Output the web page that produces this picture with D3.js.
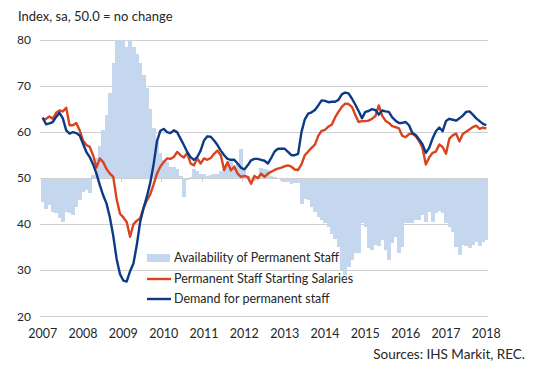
<!DOCTYPE html>
<html><head><meta charset="utf-8">
<script src="https://cdn.jsdelivr.net/npm/d3@7"></script>
<style>
html,body{margin:0;padding:0;background:#fff;}
svg text{font-family:Lato,"Open Sans",sans-serif;fill:#262626;}
</style></head>
<body><svg id="chart" width="542" height="369"></svg>
<script>
const years = ["2007","2008","2009","2010","2011","2012","2013","2014","2015","2016","2017","2018"];
const yTicks = [20,30,40,50,60,70,80];
const seriesNames = ["Availability of Permanent Staff","Permanent Staff Starting Salaries","Demand for permanent staff"];

// Monthly, Jan 2007 .. Jan 2018
const availability = [
44.9,43.3,44.1,42.7,42.5,41.3,40.5,42.7,42.4,42,43.8,45.2,
47,47.4,46.7,50.6,54.3,57,60.4,63.7,68.4,75,80,80,
80,78.5,80,78.5,77,75,72.5,69.5,65,61,58,55.5,
54,53.5,52.4,52.4,51.9,50.5,46,49.7,50.3,52,51.5,51,
51,50.5,50.8,51,51,51.5,52,53.2,54,52.8,53,56.3,
51.5,50.5,49.8,49.5,50.5,52.3,51.9,51.8,50.5,50.3,50,49.3,
49.2,49.2,48.8,49,49,44.5,45.6,45.2,43.8,42.7,41.6,40.9,
40.2,39.4,38,36.9,35.1,30,29,30.8,32.2,33.7,33.7,40.2,
39.4,34.8,34.4,35.5,35.3,36.5,34.4,32.2,35.9,37.3,33.7,35,
40.2,40.2,40.2,40.9,40.9,42,40.5,42.7,40.5,42.4,43,42.4,
40.2,39.4,38.4,35.1,33.3,35.5,35.3,34.8,35.5,36.2,35.3,36.2,
36.6];
const salaries = [
62.6,62.9,63.4,62.9,64.2,64.7,64.5,65.3,61.5,61.5,62,60.4,
58.2,57.2,56.8,55,52.3,54.3,53.5,52,51,50.3,45.5,42.3,
41.5,40.5,37.3,40,40.8,41.3,43.5,45.2,46.5,48.6,51,52.5,
53.5,54.3,54.2,54.6,55.7,55,54.5,55.5,53.2,52.8,54.3,53.2,
54.3,54,54.4,55.3,56,55,51.8,53.5,51.7,52.5,51,50.3,
50.5,50.3,48.8,50.5,50,51,50.3,51,51.4,51.8,52.1,52.3,
52.6,52.8,52.5,51.9,51.8,53,55,55.8,56.6,57.3,59.2,60.3,
60.5,61.2,61.6,63.2,64.4,65.5,66.2,66.1,65.5,63.8,62.2,62.4,
62.4,62.5,62.9,63.5,65.8,63.6,62.5,62,61.3,61.1,60.8,59.2,
58.9,59.6,59.7,59.1,58.1,56.6,53,54.5,55.5,55.8,57.3,56.8,
55.3,58.6,59.3,59.7,58,59.6,60.1,60.6,61.1,61.4,60.7,61,
60.8];
const demand = [
63.2,61.7,61.9,62.2,63.3,64.2,63,60.4,59.7,60,59.8,59.3,
57.5,55.7,54.6,53,51,48.5,46.3,44.5,41.5,37.5,32.5,29.2,
27.8,27.6,29.8,31.5,35.5,40.5,43.5,46,49,53,58,60.3,
60.7,60,59.8,60.4,60,58.6,57.2,55.7,54.6,54,54.6,56,
58.2,59.1,59,58.2,57.2,56,55,54.2,54,54,53.2,52.3,
51.9,52.8,53.9,54.2,54.2,54,53.8,53.2,54.4,55.8,56.4,56.4,
56.4,55.7,55,55,55.3,60,62.8,64,64.3,64.8,65.8,66.9,
66.8,66.5,66.6,66.6,67,68.2,68.6,68.4,67.3,66,64.6,63,
64.4,64.6,65,64.8,63.8,64.7,64.5,64.4,63.2,62.5,62,62,
62.2,61.5,59.8,59.4,58.4,57.4,55.5,56.6,58.6,60.2,61,60.2,
62.4,62.9,62.7,62.5,63,63.6,64.4,64.5,63.8,63,62.4,61.8,
61.5];

const barColor = "#c5d7ef", redColor = "#d9441f", blueColor = "#0c3a85", gridColor = "#cfcfcf";

const months = d3.range(availability.length);
const svg = d3.select("#chart");
const x = d3.scaleBand().domain(months).range([41, 488]).padding(0);
const y = d3.scaleLinear().domain([20, 80]).range([316.5, 40]);
const bw = x.bandwidth();
const cx = i => x(i) + bw / 2;

// title
svg.append("text").attr("x", 18).attr("y", 21).style("font-size", "13px").text("Index, sa, 50.0 = no change");

// gridlines
svg.append("g").selectAll("line").data(yTicks.filter(v => v !== 50)).join("line")
  .attr("x1", 40).attr("x2", 488).attr("y1", d => y(d)).attr("y2", d => y(d))
  .attr("stroke", gridColor).attr("stroke-width", 1).attr("shape-rendering", "crispEdges");

// y labels
svg.append("g").selectAll("text").data(yTicks).join("text")
  .attr("x", 31).attr("y", d => y(d) + 4).attr("text-anchor", "end")
  .style("font-size", "12px").text(d => d);

// bars relative to 50
svg.append("g").selectAll("rect").data(availability).join("rect")
  .attr("x", (d, i) => x(i)).attr("width", bw + 0.4)
  .attr("y", d => y(Math.max(d, 50))).attr("height", d => Math.abs(y(d) - y(50)))
  .attr("fill", barColor).attr("shape-rendering", "crispEdges");

// axis line at 50 with year ticks
svg.append("line").attr("x1", 40).attr("x2", 488).attr("y1", y(50)).attr("y2", y(50))
  .attr("stroke", gridColor).attr("shape-rendering", "crispEdges");
svg.append("g").selectAll("line").data(years).join("line")
  .attr("x1", (d, k) => x(k * 12)).attr("x2", (d, k) => x(k * 12))
  .attr("y1", y(50)).attr("y2", y(50) + 4)
  .attr("stroke", gridColor).attr("shape-rendering", "crispEdges");

// x labels
svg.append("g").selectAll("text").data(years).join("text")
  .attr("x", (d, k) => cx(k * 12)).attr("y", 338).attr("text-anchor", "middle")
  .style("font-size", "12.5px").text(d => d);

// lines
const line = d3.line().x((d, i) => cx(i)).y(d => y(d)).curve(d3.curveLinear);
svg.append("path").datum(salaries).attr("d", line).attr("fill", "none")
  .attr("stroke", redColor).attr("stroke-width", 2.4).attr("stroke-linejoin", "round");
svg.append("path").datum(demand).attr("d", line).attr("fill", "none")
  .attr("stroke", blueColor).attr("stroke-width", 2.4).attr("stroke-linejoin", "round");

// legend
const lg = svg.append("g");
lg.append("rect").attr("x", 147).attr("y", 254).attr("width", 23).attr("height", 8).attr("fill", barColor);
lg.append("line").attr("x1", 147).attr("x2", 171).attr("y1", 279).attr("y2", 279).attr("stroke", redColor).attr("stroke-width", 2.4);
lg.append("line").attr("x1", 147).attr("x2", 171).attr("y1", 299).attr("y2", 299).attr("stroke", blueColor).attr("stroke-width", 2.4);
lg.selectAll("text").data(seriesNames).join("text")
  .attr("x", 174).attr("y", (d, k) => [262, 283, 303][k])
  .style("font-size", "12.5px").text(d => d);

// source
svg.append("text").attr("x", 525).attr("y", 359).attr("text-anchor", "end")
  .style("font-size", "13.5px").text("Sources: IHS Markit, REC.");
</script></body></html>
